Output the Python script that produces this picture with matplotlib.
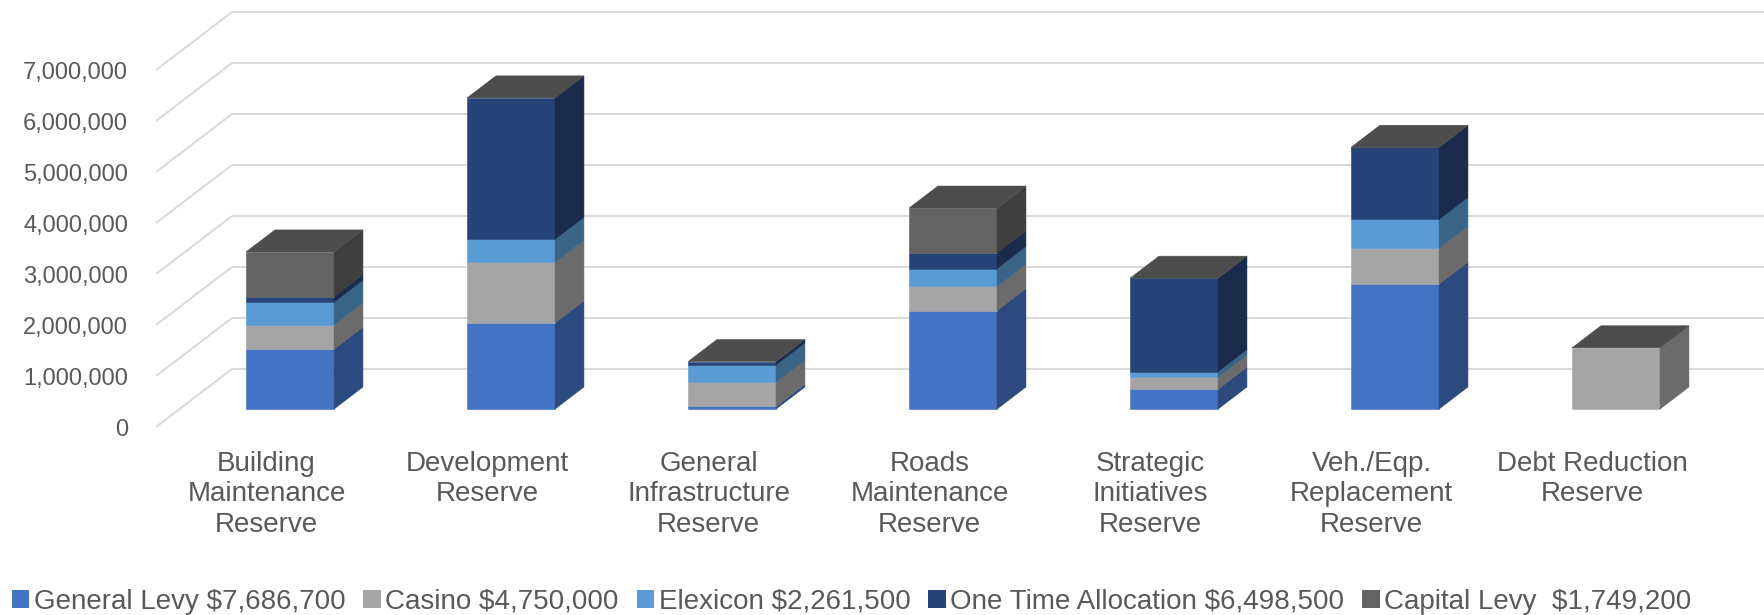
import matplotlib.pyplot as plt
from matplotlib.patches import Polygon, Patch

# data
categories = ["Building\nMaintenance\nReserve", "Development\nReserve",
              "General\nInfrastructure\nReserve", "Roads\nMaintenance\nReserve",
              "Strategic\nInitiatives\nReserve", "Veh./Eqp.\nReplacement\nReserve",
              "Debt Reduction\nReserve"]
general_levy = [1175000, 1690000, 50000, 1930000, 390000, 2451700, 0]
casino = [475000, 1190000, 475000, 475000, 235000, 700000, 1200000]
elexicon = [445000, 450000, 340000, 350000, 110000, 566500, 0]
one_time = [110000, 2770000, 65000, 310000, 1830000, 1413500, 0]
capital_levy = [874600, 0, 0, 874600, 0, 0, 0]
series_labels = [r"General Levy \$7,686,700", r"Casino \$4,750,000", r"Elexicon \$2,261,500",
                 r"One Time Allocation \$6,498,500", r"Capital Levy  \$1,749,200"]
y_ticks = [0, 1000000, 2000000, 3000000, 4000000, 5000000, 6000000, 7000000]

series = [general_levy, casino, elexicon, one_time, capital_levy]
front_cols = ["#4472C4", "#A5A5A5", "#5B9BD5", "#264478", "#636363"]
side_cols = ["#2C4A7E", "#6B6B6B", "#3A6587", "#1A2B4B", "#3F3F3F"]
top_col = "#4D4D4D"

# oblique 3d look: depth offsets in data units
DX = 76 / 221
DY = 58 / 51 * 1e6
D0, D1 = 0.31, 0.69
BW = 88 / 221

def proj(x, v, d):
    return (x + d * DX, v + d * DY)

fig = plt.figure(figsize=(17.64, 6.15), dpi=100)
ax = fig.add_axes([156 / 1764, (615 - 427) / 615, 1608 / 1764, 427 / 615])
ax.set_xlim(0, 1608 / 221)
ax.set_ylim(0, 427 / 51 * 1e6)
for s in ax.spines.values():
    s.set_visible(False)

# walls: side wall diagonals and back wall gridlines
grid_kw = dict(color="#D9D9D9", lw=1.4, zorder=1, solid_capstyle="butt")
for v in y_ticks:
    x0, y0 = proj(0, v, 0)
    x1, y1 = proj(0, v, 1)
    ax.plot([x0, x1], [y0, y1], **grid_kw)
    ax.plot([x1, 10], [y1, y1], **grid_kw)

# stacked boxes
for i in range(len(categories)):
    xl = i + 0.5 - BW / 2
    xr = i + 0.5 + BW / 2
    base = 0
    for k, vals in enumerate(series):
        h = vals[i]
        if h <= 0:
            continue
        b, t = base, base + h
        front = [proj(xl, b, D0), proj(xr, b, D0), proj(xr, t, D0), proj(xl, t, D0)]
        side = [proj(xr, b, D0), proj(xr, b, D1), proj(xr, t, D1), proj(xr, t, D0)]
        ax.add_patch(Polygon(front, closed=True, fc=front_cols[k], ec=front_cols[k], lw=0.4, zorder=3))
        ax.add_patch(Polygon(side, closed=True, fc=side_cols[k], ec=side_cols[k], lw=0.4, zorder=3))
        base = t
    top = [proj(xl, base, D0), proj(xr, base, D0), proj(xr, base, D1), proj(xl, base, D1)]
    ax.add_patch(Polygon(top, closed=True, fc=top_col, ec=top_col, lw=0.4, zorder=3))

ax.set_yticks(y_ticks)
ax.set_yticklabels([f"{v:,}" for v in y_ticks])
ax.set_xticks([i + 0.5 for i in range(len(categories))])
ax.set_xticklabels(categories)
ax.tick_params(axis="y", length=0, pad=20, labelsize=17, labelcolor="#595959")
ax.tick_params(axis="x", length=0, pad=17, labelsize=20, labelcolor="#595959")
for lab in ax.get_yticklabels():
    lab.set_family("Liberation Sans")
for lab in ax.get_xticklabels():
    lab.set_family("Liberation Sans")
    lab.set_linespacing(1.24)

handles = [Patch(facecolor=c, edgecolor="none") for c in front_cols]
fig.legend(handles, series_labels, ncol=5, loc="center left",
           bbox_to_anchor=(11.7 / 1764, 1 - 602 / 615), frameon=False,
           prop={"family": "Liberation Sans", "size": 20}, labelcolor="#595959",
           handlelength=0.64, handleheight=0.64, handletextpad=0.15,
           columnspacing=0.65, borderpad=0, borderaxespad=0)

fig.savefig("out.png", dpi=100)
